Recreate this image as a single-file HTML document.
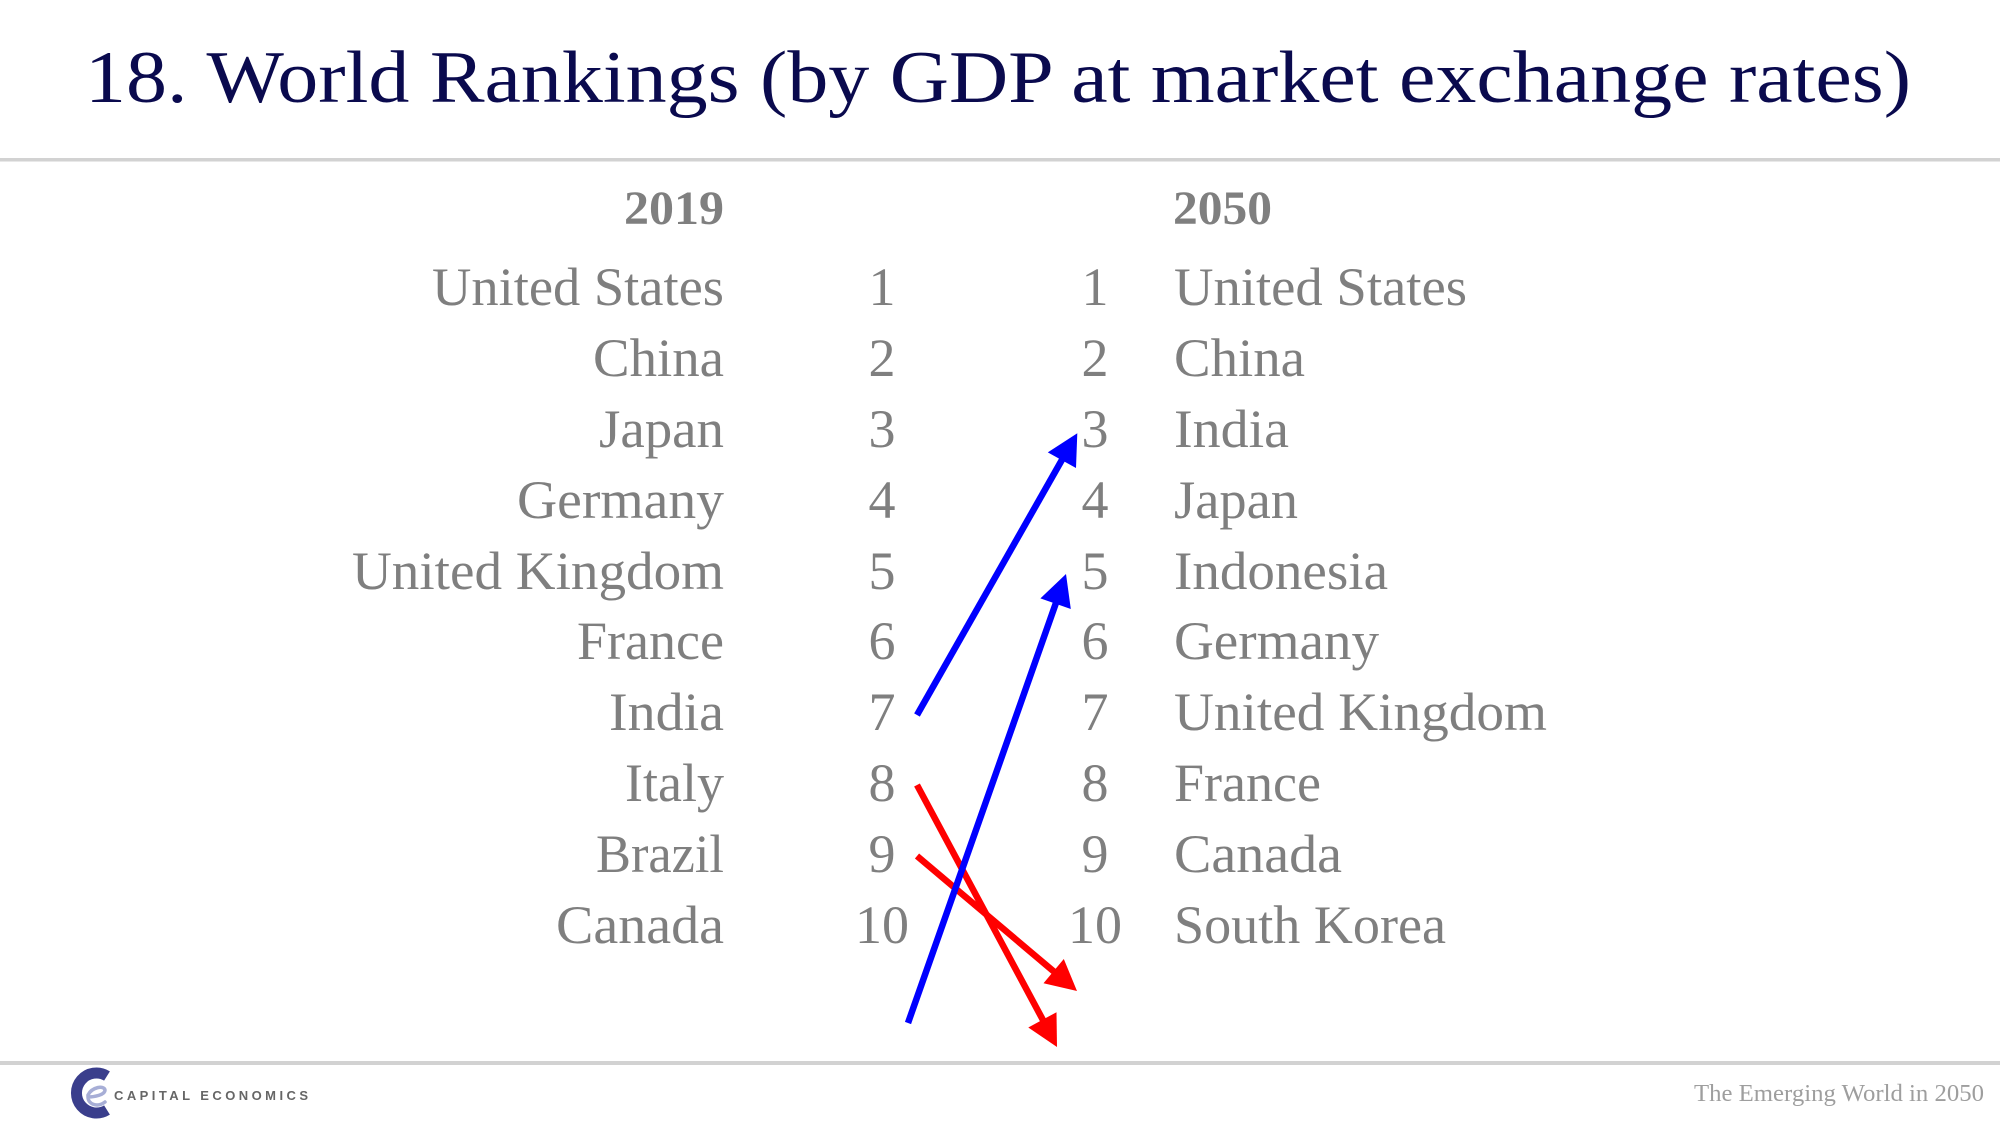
<!DOCTYPE html>
<html>
<head>
<meta charset="utf-8">
<style>
  html, body { margin: 0; padding: 0; background: #ffffff; }
  body { width: 2000px; height: 1125px; overflow: hidden; }
  svg { display: block; }
  .ser { font-family: "Liberation Serif", "DejaVu Serif", serif; }
  .g { fill: #7f7f7f; }
</style>
</head>
<body>
<svg width="2000" height="1125" viewBox="0 0 2000 1125" xmlns="http://www.w3.org/2000/svg">
  <rect x="0" y="0" width="2000" height="1125" fill="#ffffff"/>

  <!-- Title -->
  <text class="ser" x="85" y="102" font-size="74" fill="#0a0a4e" textLength="1826" lengthAdjust="spacingAndGlyphs">18. World Rankings (by GDP at market exchange rates)</text>

  <!-- Top rule -->
  <rect x="0" y="158" width="2000" height="3.5" fill="#d2d2d2"/>

  <!-- Headers -->
  <text class="ser g" x="624" y="224" font-size="48" font-weight="bold" textLength="100" lengthAdjust="spacingAndGlyphs">2019</text>
  <text class="ser g" x="1173" y="224" font-size="48" font-weight="bold" textLength="99" lengthAdjust="spacingAndGlyphs">2050</text>

  <!-- 2019 countries (right-aligned at 724) -->
  <g class="ser g" font-size="54">
    <text x="432" y="305" textLength="292" lengthAdjust="spacingAndGlyphs">United States</text>
    <text x="593" y="376" textLength="131" lengthAdjust="spacingAndGlyphs">China</text>
    <text x="599" y="447" textLength="125" lengthAdjust="spacingAndGlyphs">Japan</text>
    <text x="517" y="518" textLength="207" lengthAdjust="spacingAndGlyphs">Germany</text>
    <text x="352" y="589" textLength="372" lengthAdjust="spacingAndGlyphs">United Kingdom</text>
    <text x="577" y="659" textLength="147" lengthAdjust="spacingAndGlyphs">France</text>
    <text x="609" y="730" textLength="115" lengthAdjust="spacingAndGlyphs">India</text>
    <text x="625" y="801" textLength="99" lengthAdjust="spacingAndGlyphs">Italy</text>
    <text x="596" y="872" textLength="128" lengthAdjust="spacingAndGlyphs">Brazil</text>
    <text x="556" y="943" textLength="168" lengthAdjust="spacingAndGlyphs">Canada</text>
  </g>

  <!-- 2019 ranks -->
  <g class="ser g" font-size="54" text-anchor="middle">
    <text x="882" y="305">1</text>
    <text x="882" y="376">2</text>
    <text x="882" y="447">3</text>
    <text x="882" y="518">4</text>
    <text x="882" y="589">5</text>
    <text x="882" y="659">6</text>
    <text x="882" y="730">7</text>
    <text x="882" y="801">8</text>
    <text x="882" y="872">9</text>
    <text x="882" y="943">10</text>
  </g>

  <!-- 2050 ranks -->
  <g class="ser g" font-size="54" text-anchor="middle">
    <text x="1095" y="305">1</text>
    <text x="1095" y="376">2</text>
    <text x="1095" y="447">3</text>
    <text x="1095" y="518">4</text>
    <text x="1095" y="589">5</text>
    <text x="1095" y="659">6</text>
    <text x="1095" y="730">7</text>
    <text x="1095" y="801">8</text>
    <text x="1095" y="872">9</text>
    <text x="1095" y="943">10</text>
  </g>

  <!-- 2050 countries -->
  <g class="ser g" font-size="54">
    <text x="1174" y="305" textLength="293" lengthAdjust="spacingAndGlyphs">United States</text>
    <text x="1174" y="376" textLength="131" lengthAdjust="spacingAndGlyphs">China</text>
    <text x="1174" y="447" textLength="115" lengthAdjust="spacingAndGlyphs">India</text>
    <text x="1174" y="518" textLength="124" lengthAdjust="spacingAndGlyphs">Japan</text>
    <text x="1174" y="589" textLength="214" lengthAdjust="spacingAndGlyphs">Indonesia</text>
    <text x="1174" y="659" textLength="205" lengthAdjust="spacingAndGlyphs">Germany</text>
    <text x="1174" y="730" textLength="373" lengthAdjust="spacingAndGlyphs">United Kingdom</text>
    <text x="1174" y="801" textLength="147" lengthAdjust="spacingAndGlyphs">France</text>
    <text x="1174" y="872" textLength="168" lengthAdjust="spacingAndGlyphs">Canada</text>
    <text x="1174" y="943" textLength="272" lengthAdjust="spacingAndGlyphs">South Korea</text>
  </g>

  <!-- Red arrows (drawn first, under blue) -->
  <g fill="#ff0000" stroke="none">
    <line x1="917" y1="785" x2="1044" y2="1022" stroke="#ff0000" stroke-width="6.5"/>
    <polygon points="1057,1047 1028.3,1027.5 1056.5,1012.2"/>
    <line x1="917" y1="856" x2="1055" y2="972.5" stroke="#ff0000" stroke-width="6.5"/>
    <polygon points="1077,991 1043.5,983.2 1063.8,959"/>
  </g>

  <!-- Blue arrows -->
  <g fill="#0000ff" stroke="none">
    <line x1="917" y1="715" x2="1063" y2="458" stroke="#0000ff" stroke-width="6.5"/>
    <polygon points="1077.3,433.3 1076,468 1047.8,452.4"/>
    <line x1="908" y1="1023" x2="1057" y2="600" stroke="#0000ff" stroke-width="6.5"/>
    <polygon points="1066,574 1070.8,609 1040.4,598.4"/>
  </g>

  <!-- Bottom rule -->
  <rect x="0" y="1061" width="2000" height="4" fill="#d2d2d2"/>

  <!-- Logo -->
  <g>
    <path d="M 107 1076 A 20 20 0 1 0 107 1110" fill="none" stroke="#3a3e8c" stroke-width="11" stroke-linecap="butt"/>
    <path d="M 88 1095 C 92 1087, 104 1085, 105 1090 C 105 1095, 94 1097, 88 1097 C 88 1104, 97 1108, 105 1102" fill="none" stroke="#a7aed6" stroke-width="3.5" stroke-linecap="round"/>
    <text x="114" y="1100" font-family="Liberation Sans, DejaVu Sans, sans-serif" font-size="13" font-weight="bold" fill="#666666" textLength="194" lengthAdjust="spacing">CAPITAL ECONOMICS</text>
  </g>

  <!-- Footer right -->
  <text class="ser" x="1694" y="1101" font-size="24" fill="#9e9e9e" textLength="290" lengthAdjust="spacingAndGlyphs">The Emerging World in 2050</text>
</svg>
</body>
</html>
